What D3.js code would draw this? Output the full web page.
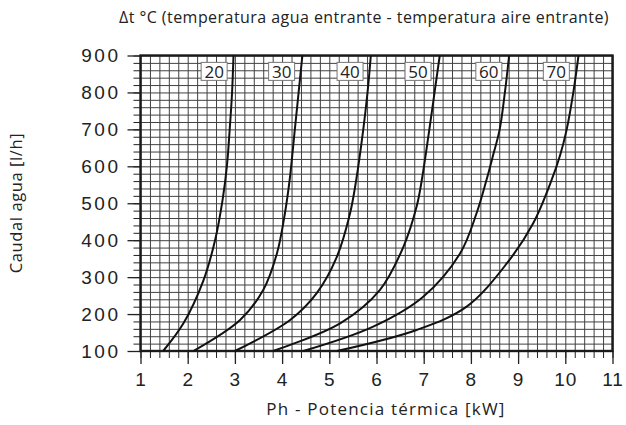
<!DOCTYPE html>
<html>
<head>
<meta charset="utf-8">
<script src="https://cdn.jsdelivr.net/npm/d3@7"></script>
<style>
  body { margin: 0; background: #fff; }
  svg { display: block; font-family: "Open Sans", sans-serif; }
  .axis path { display: none; }
  .axis line { stroke: #222; }
  .grid line { stroke: #404040; stroke-width: 1; }
  .grid path { display: none; }
</style>
</head>
<body>
<div id="chart"></div>
<script>
// Δt curves, flow (l/h) vs thermal power (kW)
const deltaT = [20, 30, 40, 50, 60, 70];
const flow20 = [100, 175, 290, 400, 510, 600, 700, 800, 900];
const kw20   = [1.48, 1.91, 2.33, 2.58, 2.74, 2.83, 2.89, 2.94, 2.97];
const flow30 = [100, 184, 265, 364, 473, 563, 700, 800, 900];
const kw30   = [2.12, 3.11, 3.60, 3.89, 4.06, 4.16, 4.27, 4.35, 4.43];
const flow40 = [100, 184, 256, 355, 473, 563, 700, 800, 900];
const kw40   = [3.00, 4.17, 4.73, 5.16, 5.44, 5.57, 5.72, 5.81, 5.88];
const flow50 = [100, 175, 265, 382, 491, 563, 700, 800, 900];
const kw50   = [3.81, 5.23, 6.07, 6.57, 6.85, 6.96, 7.12, 7.23, 7.34];
const flow60 = [100, 166, 247, 364, 473, 563, 630, 700, 800, 900];
const kw60   = [4.45, 5.93, 6.99, 7.77, 8.12, 8.33, 8.47, 8.61, 8.72, 8.81];
const flow70 = [100, 157, 220, 337, 446, 563, 630, 700, 800, 900];
const kw70   = [5.16, 6.85, 7.91, 8.76, 9.32, 9.71, 9.89, 10.03, 10.17, 10.28];

// where the Δt label boxes sit
const labelKw = [2.56, 3.99, 5.44, 6.88, 8.38, 9.81];
const labelFlow = 857;

const xTicks = [1, 2, 3, 4, 5, 6, 7, 8, 9, 10, 11];
const yTicks = [100, 200, 300, 400, 500, 600, 700, 800, 900];

const titleTop = 'Δt °C (temperatura agua entrante - temperatura aire entrante)';
const titleX = 'Ph - Potencia térmica [kW]';
const titleY = 'Caudal agua [l/h]';

const series = [
    { kw: kw20, flow: flow20 },
    { kw: kw30, flow: flow30 },
    { kw: kw40, flow: flow40 },
    { kw: kw50, flow: flow50 },
    { kw: kw60, flow: flow60 },
    { kw: kw70, flow: flow70 }
];

const W = 626, H = 425;
const m = { left: 140.5, right: 612.5, top: 55.5, bottom: 351 };

const svg = d3.select('#chart')
    .append('svg')
    .attr('width', W)
    .attr('height', H);

const x = d3.scaleLinear().domain([1, 11]).range([m.left, m.right]);
const y = d3.scaleLinear().domain([100, 900]).range([m.bottom, m.top]);

// grid
const minorX = d3.range(1, 11.001, 0.2);
const minorY = d3.range(100, 900.1, 20);

svg.append('g')
    .attr('class', 'grid')
    .attr('transform', `translate(0,${m.bottom})`)
    .call(d3.axisBottom(x).tickValues(minorX).tickSize(-(m.bottom - m.top)).tickFormat(''));

svg.append('g')
    .attr('class', 'grid')
    .attr('transform', `translate(${m.left},0)`)
    .call(d3.axisLeft(y).tickValues(minorY).tickSize(-(m.right - m.left)).tickFormat(''));

// outside minor ticks
svg.append('g')
    .attr('class', 'axis')
    .attr('transform', `translate(0,${m.bottom})`)
    .call(d3.axisBottom(x).tickValues(minorX).tickSize(7).tickFormat(''));

svg.append('g')
    .attr('class', 'axis')
    .attr('transform', `translate(${m.left},0)`)
    .call(d3.axisLeft(y).tickValues(minorY).tickSize(7).tickFormat(''));

// major ticks + labels
const xAxis = svg.append('g')
    .attr('class', 'axis')
    .attr('transform', `translate(0,${m.bottom})`)
    .call(d3.axisBottom(x).tickValues(xTicks).tickSize(13).tickPadding(9).tickFormat(d3.format('d')));
xAxis.selectAll('line').attr('stroke-width', 1.3);
xAxis.selectAll('text')
    .attr('fill', '#222')
    .style('font-size', '19px')
    .style('letter-spacing', '1px');

const yAxis = svg.append('g')
    .attr('class', 'axis')
    .attr('transform', `translate(${m.left},0)`)
    .call(d3.axisLeft(y).tickValues(yTicks).tickSize(13).tickPadding(7).tickFormat(d3.format('d')));
yAxis.selectAll('line').attr('stroke-width', 1.3);
yAxis.selectAll('text')
    .attr('fill', '#222')
    .style('font-size', '19px')
    .style('letter-spacing', '2.5px');

// frame
svg.append('rect')
    .attr('x', m.left)
    .attr('y', m.top)
    .attr('width', m.right - m.left)
    .attr('height', m.bottom - m.top)
    .attr('fill', 'none')
    .attr('stroke', '#1a1a1a')
    .attr('stroke-width', 2.4);

// curves
const line = d3.line()
    .x(d => x(d[0]))
    .y(d => y(d[1]))
    .curve(d3.curveCatmullRom.alpha(0.5));

svg.selectAll('.curve')
    .data(series)
    .enter()
    .append('path')
    .attr('class', 'curve')
    .attr('d', s => line(s.kw.map((k, i) => [k, s.flow[i]])))
    .attr('fill', 'none')
    .attr('stroke', '#111')
    .attr('stroke-width', 2);

// Δt labels
const lab = svg.selectAll('.lab')
    .data(deltaT)
    .enter()
    .append('g')
    .attr('class', 'lab')
    .attr('transform', (d, i) => `translate(${x(labelKw[i])},${y(labelFlow)})`);

lab.append('rect')
    .attr('x', -13)
    .attr('y', -9)
    .attr('width', 26)
    .attr('height', 18)
    .attr('fill', '#fff')
    .attr('stroke', '#777')
    .attr('stroke-width', 1);

lab.append('text')
    .attr('text-anchor', 'middle')
    .attr('dy', '0.36em')
    .attr('fill', '#222')
    .style('font-size', '17px')
    .text(d => d);

// titles
svg.append('text')
    .attr('x', 364)
    .attr('y', 23)
    .attr('text-anchor', 'middle')
    .attr('fill', '#222')
    .style('font-size', '16px')
    .style('letter-spacing', '0.45px')
    .text(titleTop);

svg.append('text')
    .attr('x', 386)
    .attr('y', 415)
    .attr('text-anchor', 'middle')
    .attr('fill', '#222')
    .style('font-size', '17px')
    .style('letter-spacing', '1.2px')
    .text(titleX);

svg.append('text')
    .attr('transform', 'rotate(-90)')
    .attr('x', -203)
    .attr('y', 22)
    .attr('text-anchor', 'middle')
    .attr('fill', '#222')
    .style('font-size', '16.5px')
    .style('letter-spacing', '0.6px')
    .text(titleY);
</script>
</body>
</html>
